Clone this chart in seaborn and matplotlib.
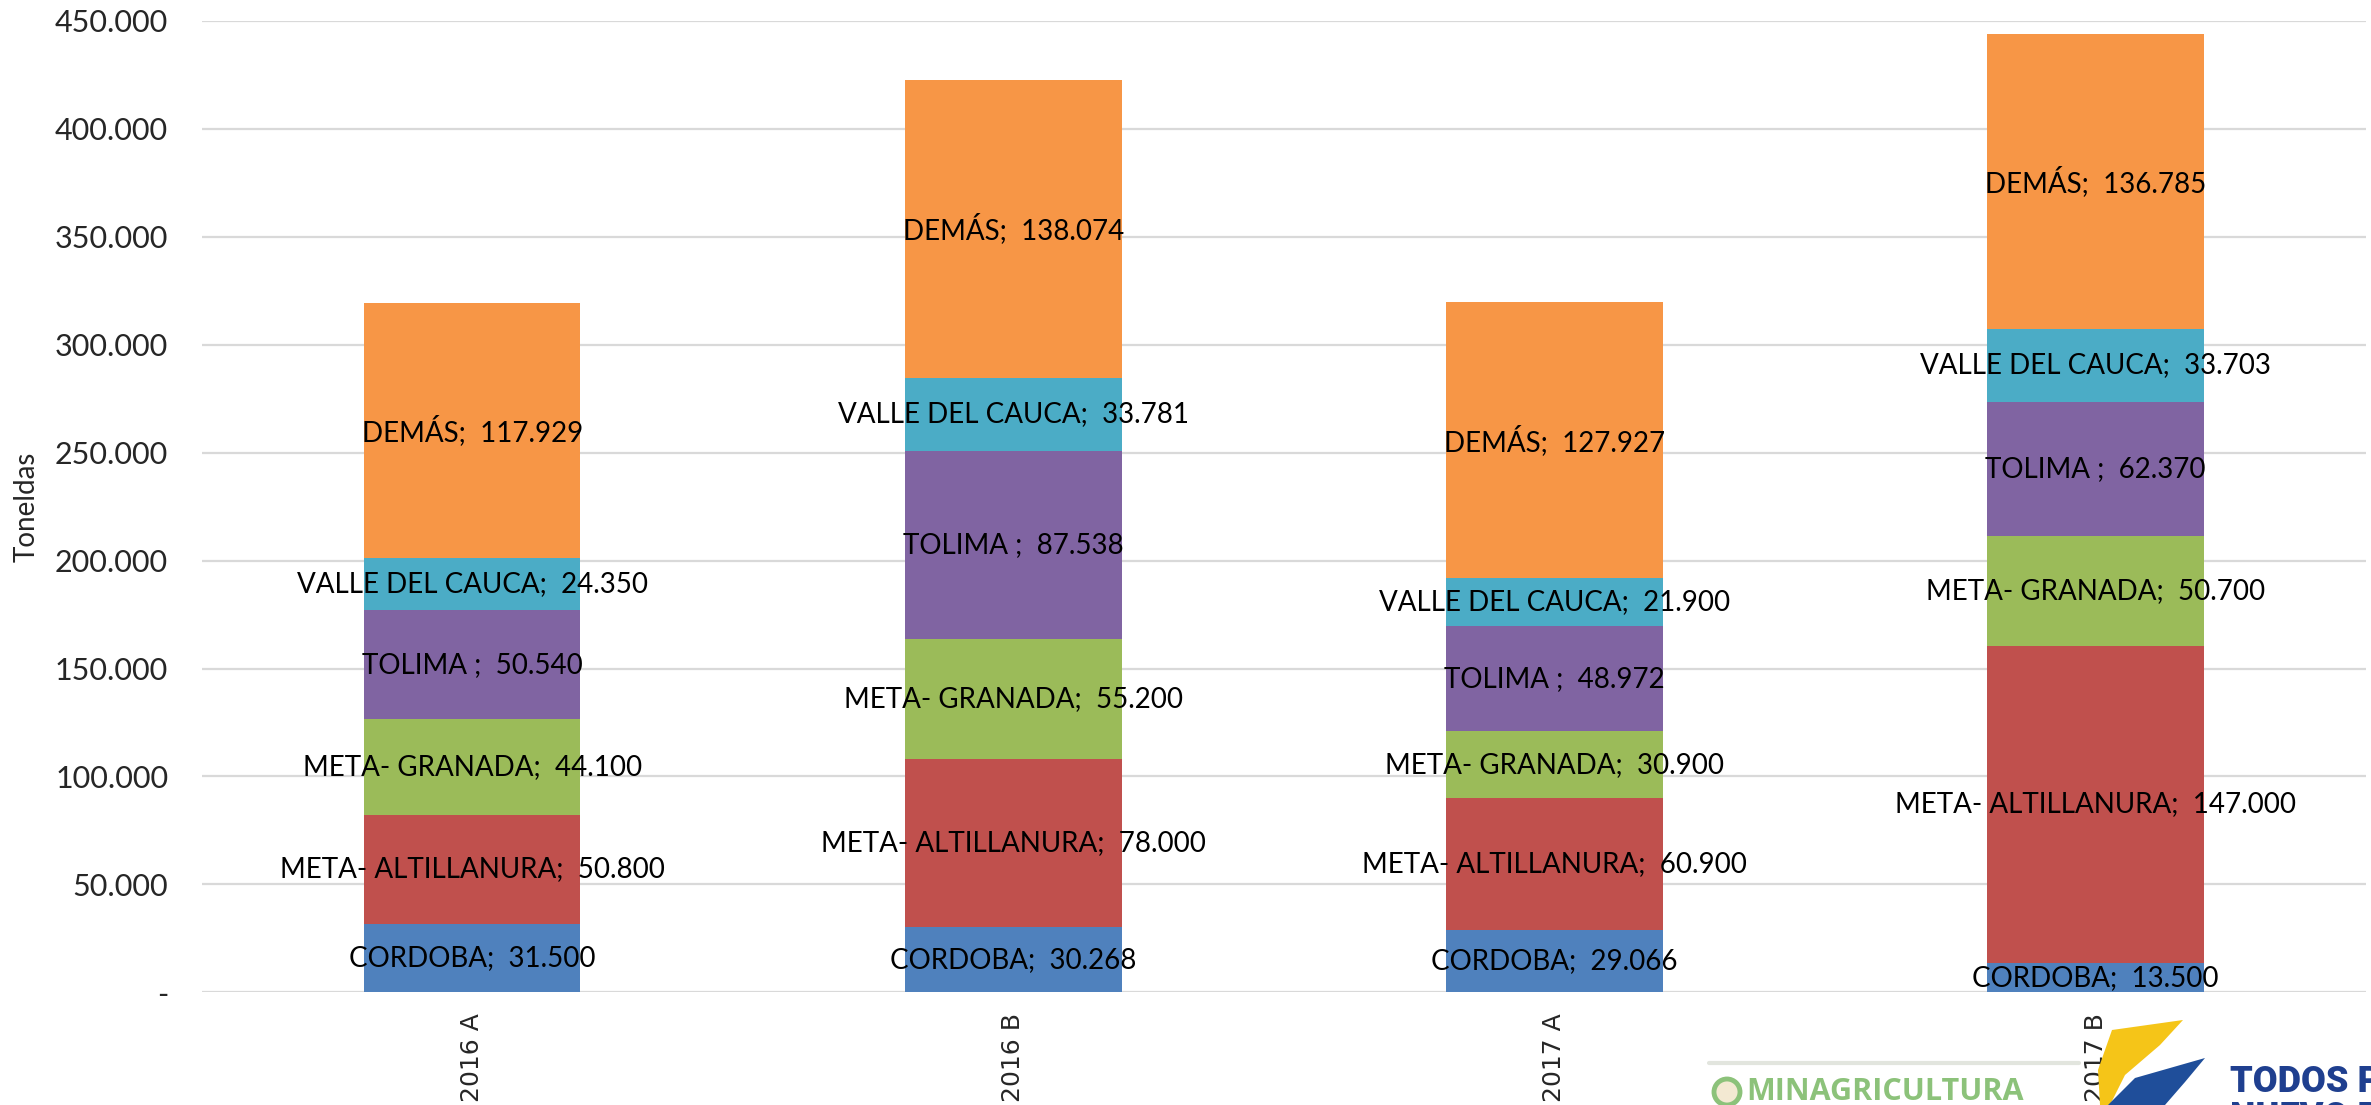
import numpy as np
import pandas as pd
import matplotlib
matplotlib.use("Agg")
import matplotlib.pyplot as plt
import seaborn as sns
from matplotlib.ticker import FuncFormatter, MultipleLocator
from matplotlib.patches import Polygon, Ellipse

periodos = ["2016 A", "2016 B", "2017 A", "2017 B"]
regiones = ["CORDOBA", "META- ALTILLANURA", "META- GRANADA", "TOLIMA ", "VALLE DEL CAUCA", "DEMÁS"]
cordoba = [31500, 30268, 29066, 13500]
meta_altillanura = [50800, 78000, 60900, 147000]
meta_granada = [44100, 55200, 30900, 50700]
tolima = [50540, 87538, 48972, 62370]
valle = [24350, 33781, 21900, 33703]
demas = [117929, 138074, 127927, 136785]
colores = ["#4F81BD", "#C0504D", "#9BBB59", "#8064A2", "#4BACC6", "#F79646"]

series = [cordoba, meta_altillanura, meta_granada, tolima, valle, demas]

sns.set_theme(style="white")
plt.rcParams["font.family"] = ["Lato", "DejaVu Sans"]

W, H = 2371, 1105
fig = plt.figure(figsize=(W / 100, H / 100), dpi=100)
ax = fig.add_axes([0.085, 0.102, 0.913, 0.879])

cum = np.cumsum(np.array(series), axis=0)
rows = []
for k in range(len(series)):
    for i, p in enumerate(periodos):
        rows.append({"serie": regiones[k], "periodo": p, "valor": series[k][i], "acum": cum[k][i]})
df = pd.DataFrame(rows)

for k in reversed(range(len(series))):
    sub = df[df["serie"] == regiones[k]]
    sns.barplot(data=sub, x="periodo", y="acum", order=periodos, color=colores[k],
                saturation=1, width=0.4, errorbar=None, ax=ax, zorder=2, linewidth=0)

def fmt(v):
    return f"{int(v):,}".replace(",", ".")

for k in range(len(series)):
    for i in range(len(periodos)):
        v = series[k][i]
        y = cum[k][i] - v / 2
        ax.text(i, y, f"{regiones[k]};  {fmt(v)}", ha="center", va="center",
                fontsize=20, color="black", zorder=5)

ax.set_ylim(0, 450000)
ax.set_xlim(-0.5, 3.5)
ax.yaxis.set_major_locator(MultipleLocator(50000))
ax.yaxis.set_major_formatter(FuncFormatter(lambda v, p: "-" if v == 0 else fmt(v)))
ax.grid(axis="y", color="#D9D9D9", linewidth=1.6, zorder=0)
ax.set_axisbelow(True)
for s in ax.spines.values():
    s.set_visible(False)
ax.tick_params(axis="y", labelsize=22, length=0, pad=24)
ax.tick_params(axis="x", labelsize=18, length=0, pad=15)
for lab in ax.get_xticklabels():
    lab.set_rotation(90)
    lab.set_family("DejaVu Sans")
ax.set_xlabel("")
ax.set_ylabel("Toneldas", fontsize=20)
ax.yaxis.set_label_coords(-0.075, 0.5)

# logos (approximated)
def fx(x):
    return x / W
def fy(y):
    return 1 - y / H

fig.add_artist(plt.Line2D([fx(1709), fx(2079)], [fy(1063), fy(1063)], color="#E2E5DE", linewidth=3))
fig.add_artist(Ellipse((fx(1727), fy(1092)), 26 / W, 26 / H, transform=fig.transFigure,
                       facecolor="#F3E9D2", edgecolor="#8CC27A", linewidth=3.5))
fig.text(fx(1746), fy(1092), "MINAGRICULTURA", color="#8CC27A", fontsize=22, fontweight="bold",
         family="Open Sans", ha="left", va="center")
yellow = [(2112, 1030), (2183, 1020), (2160, 1045), (2125, 1075), (2110, 1105), (2100, 1105), (2098, 1070)]
blue = [(2108, 1105), (2135, 1078), (2205, 1058), (2185, 1082), (2165, 1105)]
fig.add_artist(Polygon([(fx(x), fy(y)) for x, y in yellow], closed=True, transform=fig.transFigure,
                       facecolor="#F5C518", edgecolor="none"))
fig.add_artist(Polygon([(fx(x), fy(y)) for x, y in blue], closed=True, transform=fig.transFigure,
                       facecolor="#1F4E9A", edgecolor="none"))
fig.text(fx(2230), fy(1092), "TODOS POR UN", color="#1F3F8F", fontsize=26, fontweight="black",
         family="Roboto", ha="left", va="baseline")
fig.text(fx(2230), fy(1128), "NUEVO PAÍS", color="#1F3F8F", fontsize=26, fontweight="black",
         family="Roboto", ha="left", va="baseline")
fig.savefig("out.png", dpi=100)
